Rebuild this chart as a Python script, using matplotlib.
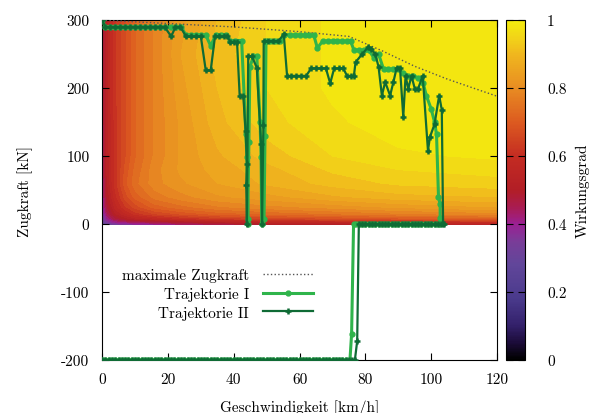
# Wirkungsgradkennfeld mit zwei Trajektorien (Zugkraft über Geschwindigkeit)
import numpy as np
import matplotlib
matplotlib.use('Agg')
import matplotlib.pyplot as plt
from matplotlib.colors import LinearSegmentedColormap, Normalize

plt.rcParams['font.family'] = ['cmr10', 'DejaVu Serif']
plt.rcParams['axes.unicode_minus'] = False
plt.rcParams['axes.formatter.use_mathtext'] = True
plt.rcParams['font.size'] = 11

# Kennfeld: Stützstellen Geschwindigkeit [km/h] und Zugkraft [kN]
kf_v = [0, 0.5, 1.5, 4, 7, 10, 16, 24, 35, 50, 70, 90, 120]
kf_F = [0, 3, 8, 15, 25, 40, 60, 80, 100, 150, 200, 250, 300]
# Wirkungsgrad, Zeilen = Zugkraft, Spalten = Geschwindigkeit
kf_eta = [
    [0.22, 0.26, 0.30, 0.34, 0.36, 0.38, 0.40, 0.43, 0.46, 0.50, 0.52, 0.53, 0.55],
    [0.25, 0.30, 0.35, 0.40, 0.42, 0.44, 0.46, 0.49, 0.52, 0.55, 0.57, 0.58, 0.60],
    [0.28, 0.34, 0.40, 0.47, 0.51, 0.54, 0.57, 0.60, 0.63, 0.65, 0.67, 0.69, 0.71],
    [0.30, 0.37, 0.44, 0.52, 0.57, 0.61, 0.65, 0.68, 0.71, 0.73, 0.75, 0.77, 0.79],
    [0.32, 0.40, 0.47, 0.56, 0.62, 0.66, 0.71, 0.74, 0.77, 0.79, 0.81, 0.83, 0.85],
    [0.34, 0.42, 0.50, 0.59, 0.66, 0.71, 0.76, 0.79, 0.82, 0.84, 0.87, 0.89, 0.90],
    [0.35, 0.44, 0.52, 0.61, 0.69, 0.74, 0.79, 0.82, 0.85, 0.88, 0.91, 0.93, 0.94],
    [0.36, 0.45, 0.53, 0.61, 0.68, 0.73, 0.79, 0.83, 0.86, 0.89, 0.93, 0.95, 0.96],
    [0.36, 0.46, 0.53, 0.61, 0.67, 0.72, 0.78, 0.83, 0.87, 0.91, 0.95, 0.97, 0.98],
    [0.37, 0.47, 0.54, 0.61, 0.67, 0.72, 0.78, 0.83, 0.89, 0.94, 0.97, 0.99, 0.99],
    [0.37, 0.47, 0.54, 0.62, 0.67, 0.72, 0.78, 0.84, 0.90, 0.95, 0.98, 0.99, 0.99],
    [0.37, 0.47, 0.54, 0.62, 0.67, 0.72, 0.78, 0.85, 0.91, 0.95, 0.98, 0.99, 0.99],
    [0.37, 0.47, 0.54, 0.62, 0.67, 0.72, 0.78, 0.84, 0.90, 0.95, 0.98, 0.99, 0.99],
]

# maximale Zugkraft
max_v = [0, 20, 40, 60, 75, 85, 95, 105, 120]
max_F = [300, 295, 290, 283, 276, 255, 232, 213, 188]

# Trajektorie I: Zugkraftphase
traj1_zug_v = [0, 1, 2.5, 4, 5.5, 7, 8.5, 10, 11.5, 13, 14.5, 16, 17.5, 19, 21, 22.5, 24,
               25.5, 27, 28.5, 30, 31.5, 33, 34.5, 36, 37.5, 39, 40.5, 42.4,
               43.7, 44.0, 44.3, 44.2, 44.6, 44.9, 46, 47, 48, 48.3, 48.5,
               49.2, 49.5, 49.8, 51, 52.5, 54, 55.2, 57, 58.5, 60, 61.5, 63, 64.3, 65.4,
               67, 68.5, 70, 71.5, 73, 74.5, 75.5, 76.5, 78, 79.5, 81, 82.5, 84,
               85.5, 87, 88.5, 90, 91.5, 93, 94.5, 96, 97.5, 98.5, 100, 101, 101.6,
               102.2, 102.7, 102.7, 102.8]
traj1_zug_F = [300, 290, 290, 290, 290, 290, 290, 290, 290, 290, 290, 290, 290, 290, 290, 290, 290,
               278, 278, 278, 278, 278, 262, 278, 278, 278, 270, 270, 270,
               132, 98, 7, 0, 120, 231, 247, 247, 150, 98, 0,
               7, 130, 269, 269, 269, 269, 278, 278, 278, 278, 278, 278, 278, 259,
               269, 269, 269, 269, 269, 269, 269, 256, 256, 256, 256, 245, 250,
               228, 228, 228, 228, 222, 218, 218, 215, 208, 189, 169, 150, 132,
               40, 29, 9, 0]
# Trajektorie I: Ausrollen (Zugkraft 0)
traj1_roll_v = [102, 101, 100, 99, 98, 97, 96, 95, 94, 93, 92, 91, 90, 89, 88, 87, 86,
                85, 84, 83, 82, 81, 80, 79, 78, 77, 76.4]
traj1_roll_F = [0, 0, 0, 0, 0, 0, 0, 0, 0, 0, 0, 0, 0, 0, 0, 0, 0,
                0, 0, 0, 0, 0, 0, 0, 0, 0, 0]
# Trajektorie I: Bremsen
traj1_brems_v = [75.8, 75.3,
                 74, 73, 72, 71, 70, 69, 68, 67, 66, 65, 64, 63, 62, 61, 60,
                 59, 58, 57, 56, 55, 54, 53, 52, 51, 50, 49, 48, 47, 46, 45,
                 44, 43, 42, 41, 40, 39, 38, 37, 36, 35, 34, 33, 32, 31, 30,
                 29, 28, 27, 26, 25, 24, 23, 22, 21, 20, 19, 18, 17, 16, 15,
                 14, 13, 12, 11, 10, 9, 8, 7, 6, 5, 4, 3, 2, 1, 0]
traj1_brems_F = [-162, -200,
                 -200, -200, -200, -200, -200, -200, -200, -200, -200, -200, -200, -200, -200, -200, -200,
                 -200, -200, -200, -200, -200, -200, -200, -200, -200, -200, -200, -200, -200, -200, -200,
                 -200, -200, -200, -200, -200, -200, -200, -200, -200, -200, -200, -200, -200, -200, -200,
                 -200, -200, -200, -200, -200, -200, -200, -200, -200, -200, -200, -200, -200, -200, -200,
                 -200, -200, -200, -200, -200, -200, -200, -200, -200, -200, -200, -200, -200, -200, -200]

# Trajektorie II: Zugkraftphase
traj2_zug_v = [0, 1, 2.5, 4, 5.5, 7, 8.5, 10, 11.5, 13, 14.5, 16, 17.5, 19, 21, 22.3, 23.8,
               25.5, 27, 28.5, 30, 31.5, 33, 34.3, 35.5, 37, 38, 39, 40, 41,
               41.8, 42.9, 43.6, 44.0, 43.8, 44.0, 44.4, 45.5, 47, 48.3, 48.6,
               49.0, 49.1, 50.5, 52, 53.5, 55.2, 56.2, 57.5, 59, 60.5, 62,
               63.5, 65, 66.5, 68, 69.3, 70.5, 72, 73.3, 74.4, 75.5, 76.5,
               77, 79, 80.8, 81.8, 83, 84, 85, 86, 87.5, 88.5, 89.5, 90.5, 91.5,
               92.2, 93, 94, 95, 96, 97.4, 99, 99.6, 101, 102.4, 103.2, 103.6]
traj2_zug_F = [300, 290, 290, 290, 290, 290, 290, 290, 290, 290, 290, 290, 290, 290, 276, 290, 290,
               276, 276, 276, 276, 226, 226, 276, 276, 276, 276, 268, 268, 268,
               189, 189, 137, 88, 58, 0, 247, 247, 230, 118, 0,
               145, 269, 269, 269, 269, 279, 218, 218, 218, 218, 218,
               229, 229, 229, 229, 207, 229, 229, 229, 218, 218, 218,
               238, 250, 260, 257, 250, 231, 189, 209, 189, 209, 230, 230, 158,
               218, 199, 218, 199, 199, 218, 108, 128, 147, 189, 168, 0]
# Trajektorie II: Ausrollen
traj2_roll_v = [104, 103, 102, 101, 100, 99, 98, 97, 96, 95, 94, 93, 92, 91, 90, 89, 88,
                87, 86, 85, 84, 83, 82, 81, 80, 79, 78]
traj2_roll_F = [0, 0, 0, 0, 0, 0, 0, 0, 0, 0, 0, 0, 0, 0, 0, 0, 0,
                0, 0, 0, 0, 0, 0, 0, 0, 0, 0]
# Trajektorie II: Bremsen
traj2_brems_v = [77.5, 76.8,
                 76, 75, 74, 73, 72, 71, 70, 69, 68, 67, 66, 65, 64, 63, 62,
                 61, 60, 59, 58, 57, 56, 55, 54, 53, 52, 51, 50, 49, 48, 47,
                 46, 45, 44, 43, 42, 41, 40, 39, 38, 37, 36, 35, 34, 33, 32,
                 31, 30, 29, 28, 27, 26, 25, 24, 23, 22, 21, 20, 19, 18, 17,
                 16, 15, 14, 13, 12, 11, 10, 9, 8, 7, 6, 5, 4, 3, 2,
                 1, 0]
traj2_brems_F = [-172, -200,
                 -200, -200, -200, -200, -200, -200, -200, -200, -200, -200, -200, -200, -200, -200, -200,
                 -200, -200, -200, -200, -200, -200, -200, -200, -200, -200, -200, -200, -200, -200, -200,
                 -200, -200, -200, -200, -200, -200, -200, -200, -200, -200, -200, -200, -200, -200, -200,
                 -200, -200, -200, -200, -200, -200, -200, -200, -200, -200, -200, -200, -200, -200, -200,
                 -200, -200, -200, -200, -200, -200, -200, -200, -200, -200, -200, -200, -200, -200, -200,
                 -200, -200]

x_ticks = [0, 20, 40, 60, 80, 100, 120]
y_ticks = [-200, -100, 0, 100, 200, 300]
cb_ticks = [0, 0.2, 0.4, 0.6, 0.8, 1]
cb_labels = ['0', '0.2', '0.4', '0.6', '0.8', '1']

traj1_v = traj1_zug_v + traj1_roll_v + traj1_brems_v
traj1_F = traj1_zug_F + traj1_roll_F + traj1_brems_F
traj2_v = traj2_zug_v + traj2_roll_v + traj2_brems_v
traj2_F = traj2_zug_F + traj2_roll_F + traj2_brems_F

# Farbpalette ähnlich wie im Original (schwarz - violett - rot - orange - gelb)
farben = [(0.0, '#000000'), (0.05, '#1c0c3a'), (0.1, '#33206a'), (0.18, '#4a3a8c'),
          (0.28, '#61469a'), (0.35, '#7a3c98'), (0.4, '#9b2093'), (0.45, '#a91c50'),
          (0.5, '#b21e26'), (0.6, '#c42c22'), (0.7, '#dc5a20'), (0.8, '#e88c22'),
          (0.9, '#f0b61e'), (0.95, '#f2d418'), (1.0, '#f3ec0e')]
cmap = LinearSegmentedColormap.from_list('wirkungsgrad', farben)

fig = plt.figure(figsize=(6.04, 4.14), dpi=100)
ax = fig.add_axes([0.169, 0.128, 0.654, 0.821])
cax = fig.add_axes([0.838, 0.128, 0.031, 0.821])

ax.contourf(kf_v, kf_F, kf_eta, levels=np.linspace(0, 1, 41), cmap=cmap,
            vmin=0, vmax=1, zorder=0)

ax.plot(max_v, max_F, color='#555555', linestyle=':', linewidth=1.0,
        label='maximale Zugkraft', zorder=3)
ax.plot(traj1_v, traj1_F, color='#2fb44b', linewidth=2.2, marker='o', markersize=3.5,
        label='Trajektorie I', zorder=4)
ax.plot(traj2_v, traj2_F, color='#0f6b35', linewidth=1.6, marker='+', markersize=5,
        markeredgewidth=1.8, label='Trajektorie II', zorder=5)

ax.set_xlim(0, 120)
ax.set_ylim(-200, 300)
ax.set_xticks(x_ticks)
ax.set_xticklabels([str(t) for t in x_ticks])
ax.set_yticks(y_ticks)
ax.set_yticklabels([str(t) for t in y_ticks])
ax.tick_params(direction='in', top=True, right=True, length=5, pad=9)
ax.set_xlabel('Geschwindigkeit [km/h]', labelpad=9)
ax.set_ylabel('Zugkraft [kN]', labelpad=20)

leg = ax.legend(loc='upper left', bbox_to_anchor=(0.015, 0.31), frameon=False,
                markerfirst=False, handlelength=3.3, handletextpad=0.9,
                labelspacing=0.3)

cb = fig.colorbar(plt.cm.ScalarMappable(norm=Normalize(0, 1), cmap=cmap), cax=cax)
cb.set_ticks(cb_ticks)
cb.set_ticklabels(cb_labels)
cax.tick_params(direction='in', left=True, right=True, length=5, pad=16)
cb.set_label('Wirkungsgrad', labelpad=6)

fig.savefig('out.png', dpi=100)
